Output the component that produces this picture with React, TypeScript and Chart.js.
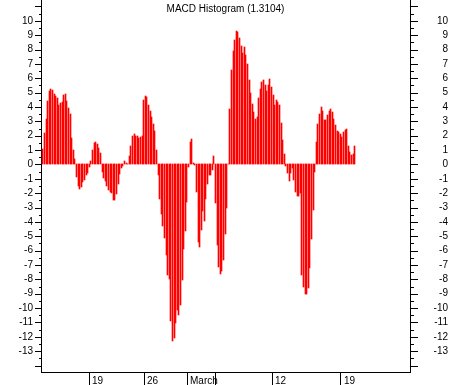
import React, { useEffect, useRef } from "react";
import { Chart, registerables } from "chart.js";

Chart.register(...registerables);

const TITLE = "MACD Histogram (1.3104)";

// MACD histogram values, read bar by bar from left to right
const histFeb = [
  1.07, 2.2, 3.16, 4.4, 5.1, 5.25, 5.18, 4.9, 4.76, 4.62, 4.15, 4.27, 4.34, 4.83, 4.9, 4.4, 3.92, 3.5,
  1.83, 1.0, 0.37, -0.86, -1.49, -1.69, -1.55, -1.2, -1.07, -0.72, -0.58, -0.19, 0.23, 1.0, 1.49, 1.58,
  1.42, 1.14, 0.79, -0.51, -0.93, -1.14, -1.49, -1.76, -1.9, -1.97, -2.46, -2.46, -2.04, -1.35, -0.65,
  -0.23, -0.1, 0.23, 0.1, 0.02, 0.58, 1.28, 1.97, 2.11, 1.97, 1.97, 1.83, 1.9, 1.97,
];
const histLateFeb = [
  4.48, 4.76, 4.69, 4.13, 3.71, 3.3, 2.81, 2.32, 1.0, -0.74, -2.41, -3.46, -4.29, -5.13, -6.31, -7.71,
  -7.99, -10.9, -12.3, -12.1, -11.06, -10.14, -10.5, -9.8, -8.05, -5.9, -4.64, -2.62, -0.19, 1.56, 1.76,
  0.09, -0.05, -1.93, -5.41, -5.76, -4.57, -3.25, -3.95, -2.41, -1.37, -0.74, -0.74, -0.39, 0.58, -2.69,
  -5.62, -7.15, -7.64, -7.43, -6.66, -4.85, -3.04, 0, 3.85, 6.57, 7.89, 8.66, 9.29, 9.2, 8.8, 8.24, 7.75,
  8.17, 7.61, 6.99, 5.87,
];
const histMarch = [
  4.97, 4.2, 3.64, 3.16, 3.3, 4.62, 5.25, 5.73, 5.87, 5.52, 5.1, 5.52, 5.94, 5.39, 4.83, 4.13, 4.48, 4.34,
  4.13, 2.88, 1.69, 0.72, -0.12, -0.6, -1.16, -0.6, -0.26, -1.09, -1.93, -2.2, -2.2, -2.0, -7.71, -8.54,
  -9.03, -9.03, -8.61, -7.22, -5.2, -3.18, -0.53, 1.56, 2.81, 3.5, 4.0, 3.71, 3.09, 3.09, 3.44, 3.71, 3.85,
  3.64, 3.16, 2.74, 2.32, 2.25, 2.11, 1.9, 2.25, 2.39, 2.46, 1.28, 0.86, 0.65, 0.72, 1.28,
];
const histogram = [...histFeb, ...histLateFeb, ...histMarch];

// x-axis date ticks, in bar-index units
const xTickPos = [29.0, 63.5, 90.3, 108.1, 143.3, 186.2];
const xTickLabels = ["19", "26", "March", "", "12", "19"];

// y-axis labelled values
const yTickLabels = [10, 9, 8, 7, 6, 5, 4, 3, 2, 1, 0, -1, -2, -3, -4, -5, -6, -7, -8, -9, -10, -11, -12, -13];

const Y_MIN = -14.45;
const Y_MAX = 11.45;
const X_MIN = -1.2;
const X_MAX = 229.6;

const FONT = '"Liberation Sans", Arial, sans-serif';

// snap the bars the library placed onto whole pixels so they stay crisp 1px lines
const snapPlugin = {
  id: "snap",
  beforeDatasetsDraw(chart: any) {
    const meta = chart.getDatasetMeta(0);
    meta.data.forEach((el: any) => {
      if (el.$snapped) return;
      el.x = Math.floor(el.x) + 0.5;
      el.y = Math.round(el.y);
      el.base = Math.round(el.base);
      el.$snapped = true;
    });
  },
};

const decorPlugin = {
  id: "decor",
  afterDraw(chart: any) {
    const ctx = chart.ctx as CanvasRenderingContext2D;
    const area = chart.chartArea;
    const ys = chart.scales.y;
    const xs = chart.scales.x;
    ctx.save();
    ctx.strokeStyle = "#000";
    ctx.lineWidth = 1;
    ctx.beginPath();
    for (let k = Math.ceil(Y_MIN * 2); k <= Math.floor(Y_MAX * 2); k++) {
      const v = k / 2;
      const py = Math.round(ys.getPixelForValue(v)) + 0.5;
      const major = k % 2 === 0;
      ctx.moveTo(area.left - (major ? 6 : 2), py);
      ctx.lineTo(area.left, py);
      ctx.moveTo(area.right, py);
      ctx.lineTo(area.right + (major ? 8 : 4), py);
    }
    ctx.stroke();

    ctx.fillStyle = "#000";
    ctx.font = `10px ${FONT}`;
    ctx.textAlign = "left";
    ctx.textBaseline = "alphabetic";
    xTickPos.forEach((p, i) => {
      const px = Math.round(xs.getPixelForValue(p));
      ctx.fillText(xTickLabels[i], px + 3, 384);
    });

    ctx.textAlign = "center";
    ctx.fillText(TITLE, (area.left + area.right) / 2, 12);
    ctx.restore();
  },
};

export default function App() {
  const ref = useRef<HTMLCanvasElement>(null);

  useEffect(() => {
    if (!ref.current) return;
    const yCommon = {
      type: "linear" as const,
      min: Y_MIN,
      max: Y_MAX,
      afterBuildTicks: (s: any) => {
        s.ticks = yTickLabels.map((v) => ({ value: v }));
      },
      grid: { display: false, drawTicks: false },
      border: { display: true, color: "#000", width: 1 },
    };
    const chart = new Chart(ref.current, {
      type: "bar",
      data: {
        datasets: [
          {
            data: histogram.map((v, i) => ({ x: i, y: v })),
            backgroundColor: "#ff0000",
            borderWidth: 0,
            barThickness: 1,
          },
        ],
      },
      plugins: [snapPlugin, decorPlugin],
      options: {
        animation: false,
        responsive: false,
        layout: { padding: { left: 0, right: 3, top: 0, bottom: 0 } },
        plugins: { legend: { display: false }, tooltip: { enabled: false }, title: { display: false } },
        scales: {
          x: {
            type: "linear",
            min: X_MIN,
            max: X_MAX,
            offset: false,
            afterBuildTicks: (s: any) => {
              s.ticks = xTickPos.map((v) => ({ value: v }));
            },
            afterFit: (s: any) => {
              s.height = 13;
              s.paddingLeft = 0;
              s.paddingRight = 0;
            },
            ticks: { display: false, autoSkip: false },
            grid: {
              display: true,
              drawOnChartArea: false,
              drawTicks: true,
              tickLength: 13,
              color: "#000",
              offset: false,
            },
            border: { display: true, color: "#000", width: 1 },
          },
          y: {
            ...yCommon,
            position: "left",
            afterFit: (s: any) => {
              s.width = 41;
              s.paddingTop = 0;
              s.paddingBottom = 0;
            },
            ticks: {
              color: "#000",
              padding: 8,
              font: { family: FONT, size: 10 },
              autoSkip: false,
            },
          },
          y2: {
            ...yCommon,
            position: "right",
            afterFit: (s: any) => {
              s.width = 38;
              s.paddingTop = 0;
              s.paddingBottom = 0;
            },
            ticks: {
              color: "#000",
              crossAlign: "far",
              font: { family: FONT, size: 10 },
              autoSkip: false,
            },
          },
        },
      } as any,
    });
    return () => chart.destroy();
  }, []);

  return (
    <div style={{ position: "absolute", left: 0, top: 0, width: 451, height: 385, background: "#fff" }}>
      <canvas ref={ref} width={451} height={385} style={{ display: "block" }} />
    </div>
  );
}
